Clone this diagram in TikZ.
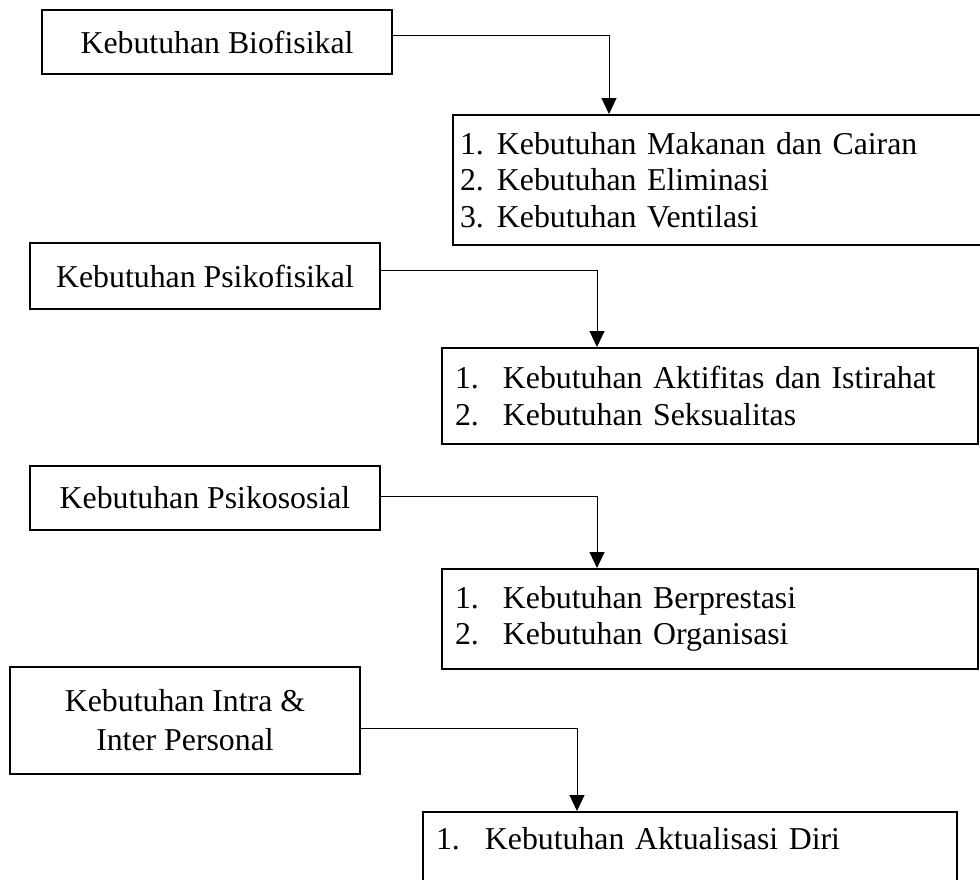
\documentclass[tikz,border=0pt]{standalone}
\usepackage{fontspec}
\setmainfont{Liberation Serif}
\usepackage{tikz}
\usetikzlibrary{positioning, arrows.meta}
\newcommand{\nomor}[2]{\makebox[#1][l]{#2}}

\begin{document}
\begin{tikzpicture}[x=1pt, y=-1pt,
  kotak/.style={draw, line width=2pt, inner sep=0pt, align=center,
    font=\fontsize{31.8pt}{39pt}\selectfont},
  daftar/.style={draw, line width=2pt, anchor=north west, inner ysep=0pt,
    align=left, font=\fontsize{31.8pt}{36.5pt}\selectfont},
  panah/.style={line width=1pt, -{Triangle[width=15pt, length=16pt]}}]
\useasboundingbox (0,0) rectangle (980,879);
\begin{scope}
\node[kotak, minimum width=350pt, minimum height=64pt] (bio) at (217,42) {Kebutuhan Biofisikal};
\node[daftar, inner xsep=7pt, text width=530pt, minimum height=130pt] (l1) at (452,114)
  {\nomor{37pt}{1.}Kebutuhan Makanan dan Cairan\\ \nomor{37pt}{2.}Kebutuhan Eliminasi\\ \nomor{37pt}{3.}Kebutuhan Ventilasi};
\draw[panah] ([yshift=7pt]bio.east) -| ([xshift=157pt]l1.north west);
\end{scope}
\begin{scope}
\node[kotak, minimum width=350pt, minimum height=66pt] (psf) at (205,276) {Kebutuhan Psikofisikal};
\node[daftar, inner xsep=13pt, text width=510pt, minimum height=96pt] (l2) at (441,347)
  {\nomor{48pt}{1.}Kebutuhan Aktifitas dan Istirahat\\ \nomor{48pt}{2.}Kebutuhan Seksualitas};
\draw[panah] ([yshift=6pt]psf.east) -| ([xshift=156pt]l2.north west);
\end{scope}
\begin{scope}
\node[kotak, minimum width=350pt, minimum height=64pt] (pss) at (205,498) {Kebutuhan Psikososial};
\node[daftar, inner xsep=13pt, text width=510pt, minimum height=100pt] (l3) at (441,568)
  {\nomor{48pt}{1.}Kebutuhan Berprestasi\\ \nomor{48pt}{2.}Kebutuhan Organisasi};
\draw[panah] ([yshift=2pt]pss.east) -| ([xshift=156pt]l3.north west);
\end{scope}
\begin{scope}
\node[kotak, minimum width=350pt, minimum height=107pt] (ip) at (185,720.5) {Kebutuhan Intra \&\\ Inter Personal};
\node[daftar, inner xsep=13pt, text width=508pt, minimum height=100pt] (l4) at (422,811)
  {\nomor{49pt}{1.}Kebutuhan Aktualisasi Diri\\ \strut};
\draw[panah] ([yshift=-7.5pt]ip.east) -| ([xshift=155pt]l4.north west);
\end{scope}
\end{tikzpicture}
\end{document}
